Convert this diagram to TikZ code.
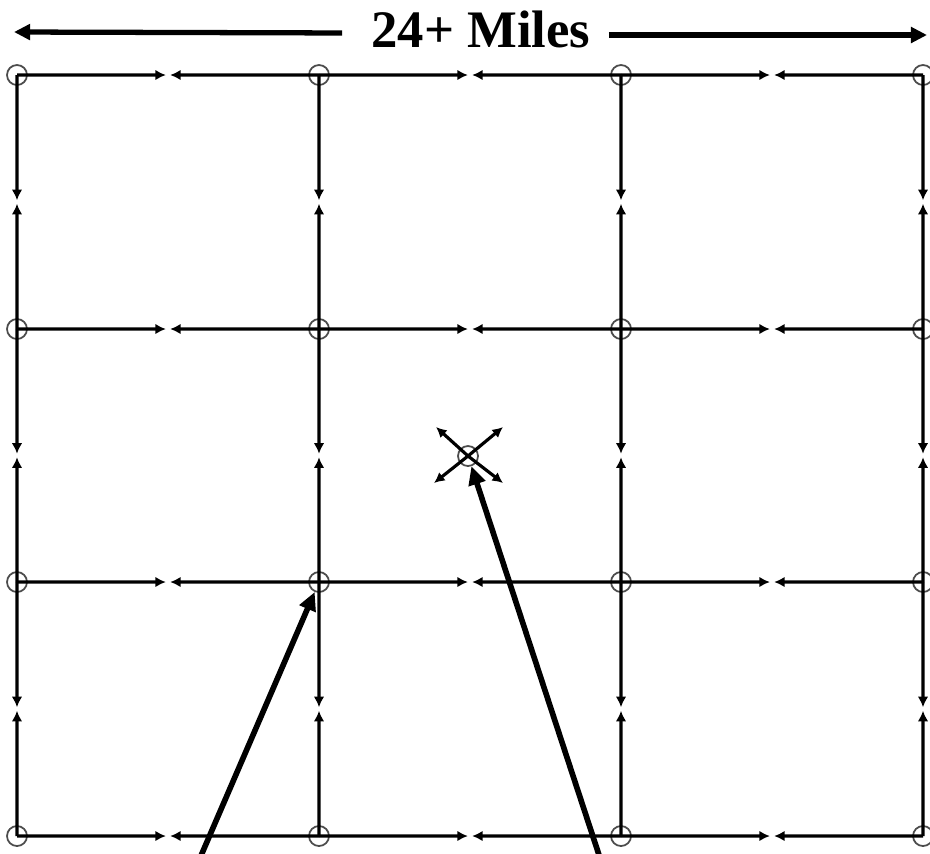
\documentclass[tikz,border=0pt]{standalone}
\usepackage{fontspec}
\setmainfont{Liberation Serif}
\usetikzlibrary{arrows.meta,calc,positioning}
\tikzset{
    town/.style={
        circle,
        draw=black!70,
        line width=0.5pt,
        minimum size=0.2cm,
        inner sep=0pt
    },
    road/.style={line width=0.9pt, -{Latex[length=3pt,width=3pt]}},
    pointer/.style={line width=1.6pt, -{Triangle[length=5.2pt,width=4.8pt]}},
    span/.style={line width=1.5pt, -{Triangle[length=4.6pt,width=4.4pt]}},
    title/.style={font={\fontsize{15pt}{18}\selectfont\bfseries}, anchor=base},
}
\begin{document}
\begin{tikzpicture}
\useasboundingbox (0,0) rectangle (9.30,8.53);

% towns on the grid
\foreach \i/\x in {0/0.17,1/3.19,2/6.21,3/9.23}
  \foreach \j/\y in {0/7.78,1/5.24,2/2.71,3/0.17}
    \node[town] (t\i\j) at (\x,\y) {};

% roads, each town sends an arrow halfway
\foreach \a/\b in {0/1,1/2,2/3}
  \foreach \c in {0,1,2,3} {
    \draw[road] (t\a\c.center) -- ($(t\a\c)!0.493!(t\b\c)$);
    \draw[road] (t\b\c.center) -- ($(t\b\c)!0.493!(t\a\c)$);
    \draw[road] (t\c\a.center) -- ($(t\c\a)!0.493!(t\c\b)$);
    \draw[road] (t\c\b.center) -- ($(t\c\b)!0.493!(t\c\a)$);
  }

% town in the middle of a square
\node[town] (hub) at (4.68,3.97) {};
\coordinate (hub-nw) at ($(hub)+(-0.32,0.29)$);
\coordinate (hub-ne) at ($(hub)+(0.35,0.29)$);
\coordinate (hub-sw) at ($(hub)+(-0.34,-0.27)$);
\coordinate (hub-se) at ($(hub)+(0.35,-0.27)$);
\draw[road] (hub.center) -- (hub-nw);
\draw[road] (hub.center) -- (hub-ne);
\draw[road] (hub.center) -- (hub-sw);
\draw[road] (hub.center) -- (hub-se);

% title with span arrows
\node[title] (miles) at (4.81,8.06) {24+ Miles};
\coordinate (west end) at (0.14,8.21);
\coordinate (east end) at (9.27,8.18);
\draw[span] ([xshift=-1.7mm,yshift=-0.4mm]miles.west) -- (west end);
\draw[span] ([xshift=0.6mm]miles.east |- east end) -- (east end);

% pointers from below
\coordinate (left tail) at (2.00,-0.05);
\coordinate (right tail) at (6.00,-0.05);
\draw[pointer] (left tail) -- (t12);
\draw[pointer] (right tail) -- (hub);
\end{tikzpicture}
\end{document}
